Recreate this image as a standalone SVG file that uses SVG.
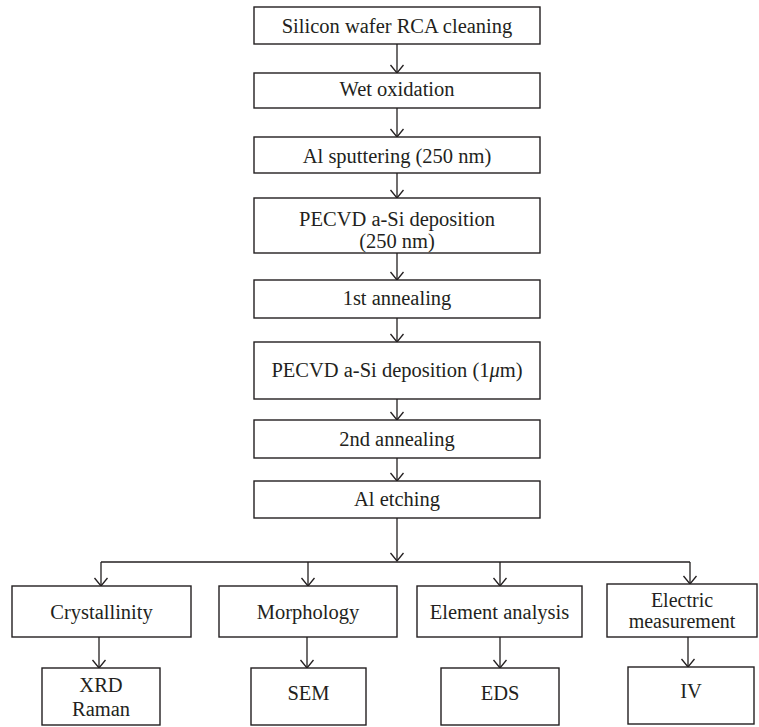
<svg xmlns="http://www.w3.org/2000/svg" width="759" height="727" viewBox="0 0 759 727">
<style>
.box{fill:#fff;stroke:#231f20;stroke-width:1.4}
.t{font-family:"Liberation Serif","Times New Roman",serif;font-size:20.5px;fill:#231f20;text-anchor:middle}
.c{fill:none;stroke:#231f20;stroke-width:1.3}
</style>
<defs>
<marker id="arr" markerUnits="userSpaceOnUse" markerWidth="14" markerHeight="16" refX="9" refY="7" orient="auto" overflow="visible">
<path d="M1,0.5 L9,7 L1,13.5" fill="none" stroke="#231f20" stroke-width="1.3"/>
</marker>
</defs>
<rect width="759" height="727" fill="#fff"/>
<g id="connectors">
<line class="c" x1="397" y1="44" x2="397" y2="73" marker-end="url(#arr)"/>
<line class="c" x1="397" y1="108" x2="397" y2="137" marker-end="url(#arr)"/>
<line class="c" x1="397" y1="173" x2="397" y2="198" marker-end="url(#arr)"/>
<line class="c" x1="397" y1="253" x2="397" y2="280" marker-end="url(#arr)"/>
<line class="c" x1="397" y1="318" x2="397" y2="342" marker-end="url(#arr)"/>
<line class="c" x1="397" y1="399" x2="397" y2="420" marker-end="url(#arr)"/>
<line class="c" x1="397" y1="458" x2="397" y2="481" marker-end="url(#arr)"/>
<line class="c" x1="397" y1="518" x2="397" y2="561" marker-end="url(#arr)"/>
<line class="c" x1="101" y1="562" x2="690" y2="562"/>
<line class="c" x1="101" y1="562" x2="101" y2="586" marker-end="url(#arr)"/>
<line class="c" x1="308" y1="562" x2="308" y2="586" marker-end="url(#arr)"/>
<line class="c" x1="500" y1="562" x2="500" y2="586" marker-end="url(#arr)"/>
<line class="c" x1="690" y1="562" x2="690" y2="584" marker-end="url(#arr)"/>
<line class="c" x1="99" y1="637" x2="99" y2="668" marker-end="url(#arr)"/>
<line class="c" x1="307" y1="637" x2="307" y2="668" marker-end="url(#arr)"/>
<line class="c" x1="500" y1="637" x2="500" y2="668" marker-end="url(#arr)"/>
<line class="c" x1="688" y1="637" x2="688" y2="667" marker-end="url(#arr)"/>
</g>
<g id="n1"><rect class="box" x="254" y="7" width="286" height="37"/><text class="t" x="397" y="33">Silicon wafer RCA cleaning</text></g>
<g id="n2"><rect class="box" x="254" y="73" width="286" height="35"/><text class="t" x="397" y="96">Wet oxidation</text></g>
<g id="n3"><rect class="box" x="254" y="137" width="286" height="36"/><text class="t" x="397" y="163">Al sputtering (250 nm)</text></g>
<g id="n4"><rect class="box" x="254" y="198" width="286" height="55"/><text class="t" x="397" y="226">PECVD a-Si deposition</text><text class="t" x="397" y="248">(250 nm)</text></g>
<g id="n5"><rect class="box" x="254" y="280" width="286" height="38"/><text class="t" x="397" y="305">1st annealing</text></g>
<g id="n6"><rect class="box" x="254" y="342" width="286" height="57"/><text class="t" x="397" y="377">PECVD a-Si deposition (1<tspan font-style="italic">μ</tspan>m)</text></g>
<g id="n7"><rect class="box" x="254" y="420" width="286" height="38"/><text class="t" x="397" y="446">2nd annealing</text></g>
<g id="n8"><rect class="box" x="254" y="481" width="286" height="37"/><text class="t" x="397" y="506">Al etching</text></g>
<g id="c1"><rect class="box" x="12" y="586" width="179" height="51"/><text class="t" x="101.5" y="619">Crystallinity</text></g>
<g id="c2"><rect class="box" x="219" y="586" width="178" height="51"/><text class="t" x="308" y="619">Morphology</text></g>
<g id="c3"><rect class="box" x="417" y="586" width="165" height="51"/><text class="t" x="499.5" y="619">Element analysis</text></g>
<g id="c4"><rect class="box" x="607" y="584" width="150" height="53"/><text class="t" x="682" y="607" style="font-size:20px">Electric</text><text class="t" x="682" y="628" style="font-size:20px">measurement</text></g>
<g id="d1"><rect class="box" x="42" y="668" width="118" height="57"/><text class="t" x="101" y="692">XRD</text><text class="t" x="101" y="716">Raman</text></g>
<g id="d2"><rect class="box" x="251" y="668" width="115" height="57"/><text class="t" x="308.5" y="700">SEM</text></g>
<g id="d3"><rect class="box" x="441" y="668" width="118" height="57"/><text class="t" x="500" y="700">EDS</text></g>
<g id="d4"><rect class="box" x="628" y="667" width="126" height="57"/><text class="t" x="691" y="698">IV</text></g>
</svg>
